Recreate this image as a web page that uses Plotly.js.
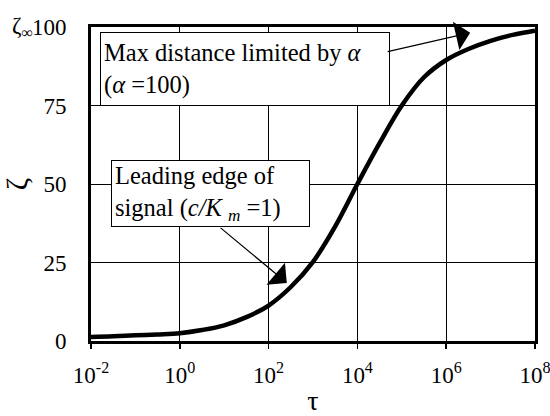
<!DOCTYPE html>
<html>
<head>
<meta charset="utf-8">
<script src="https://cdn.plot.ly/plotly-3.0.1.min.js"></script>
<style>html,body{margin:0;padding:0;background:#fff;}#chart{width:550px;height:416px;}</style>
</head>
<body>
<div id="chart"></div>
<script>
// dimensionless time tau (log scale)
const tau = [0.01, 0.0316, 0.1, 0.316, 1, 3.16, 10, 31.6, 100, 316, 1e3, 3160, 1e4, 31600, 1e5, 316000, 1e6, 3.16e6, 1e7, 3.16e7, 1e8];
// leading edge position zeta
const zeta = [1.3, 1.5, 1.8, 2.1, 2.5, 3.5, 5.0, 7.6, 11.3, 17.2, 25.2, 36.5, 50, 63, 75, 84, 89.5, 93, 95.6, 97.5, 98.8];
// tick labels
const xTickVals = [0.01, 1, 100, 1e4, 1e6, 1e8];
const xTickText = ['10<sup>-2</sup>', '10<sup>0</sup>', '10<sup>2</sup>', '10<sup>4</sup>', '10<sup>6</sup>', '10<sup>8</sup>'];
const yTickVals = [0, 25, 50, 75, 100];

const FONT = 'Liberation Serif, Times New Roman, serif';

const trace = {
  x: tau, y: zeta, type: 'scatter', mode: 'lines',
  line: {color: '#000', width: 4.5, shape: 'spline', smoothing: 1},
  hoverinfo: 'skip'
};

const layout = {
  width: 550, height: 416,
  margin: {l: 91, r: 15, t: 27, b: 74.5},
  paper_bgcolor: '#fff', plot_bgcolor: '#fff',
  showlegend: false,
  font: {family: FONT, color: '#000', size: 23},
  xaxis: {
    type: 'log', range: [-2, 8],
    tickvals: xTickVals, ticktext: xTickText,
    showgrid: true, gridcolor: '#000', gridwidth: 1,
    showline: true, linecolor: '#000', linewidth: 3, mirror: true,
    ticks: 'outside', ticklen: 5, tickwidth: 1.5, tickcolor: '#000',
    ticklabelstandoff: 6, ticklabeloverflow: 'allow',
    tickfont: {family: FONT, size: 23, color: '#000'},
    zeroline: false,
    title: {text: 'τ', font: {family: FONT, size: 28, color: '#000'}, standoff: 6}
  },
  yaxis: {
    range: [0, 100], tickvals: yTickVals,
    showgrid: true, gridcolor: '#000', gridwidth: 1,
    showline: true, linecolor: '#000', linewidth: 3, mirror: true,
    ticks: '', ticklabelstandoff: 17,
    tickfont: {family: FONT, size: 23, color: '#000'},
    zeroline: false,
    title: {text: 'ζ', font: {family: FONT, size: 30, color: '#000'}, standoff: 12}
  },
  annotations: [
    {
      xref: 'paper', yref: 'paper', x: 9/444, y: (341.5-32)/314.5,
      xanchor: 'left', yanchor: 'top', showarrow: false,
      text: 'Max distance limited by <i>α</i><br>(<i>α</i> =100)',
      align: 'left', width: 282, height: 66,
      bgcolor: '#fff', bordercolor: '#000', borderwidth: 1, borderpad: 3,
      font: {family: FONT, size: 24.5, color: '#000'}
    },
    {
      xref: 'x', yref: 'y', x: 6.54, y: 98.2, ax: -84, ay: 19.3,
      text: '', showarrow: true, arrowhead: 1, arrowsize: 4, arrowwidth: 1.2, arrowcolor: '#000'
    },
    {
      xref: 'paper', yref: 'paper', x: 20/444, y: (341.5-160)/314.5,
      xanchor: 'left', yanchor: 'top', showarrow: false,
      text: 'Leading edge of<br>signal (<i>c/K</i> <sub><i>m</i></sub> =1)',
      align: 'left', width: 191, height: 59,
      bgcolor: '#fff', bordercolor: '#000', borderwidth: 1, borderpad: 3,
      font: {family: FONT, size: 24.5, color: '#000'}
    },
    {
      xref: 'x', yref: 'y', x: 2.41, y: 18.5, ax: -67.7, ay: -56.3,
      text: '', showarrow: true, arrowhead: 1, arrowsize: 4, arrowwidth: 1.2, arrowcolor: '#000'
    },
    {
      xref: 'paper', yref: 'paper', x: -57/444, y: 1.0, xanchor: 'right', yanchor: 'middle',
      showarrow: false, text: 'ζ<sub>∞</sub>', borderpad: 0,
      font: {family: FONT, size: 23, color: '#000'}
    }
  ]
};

Plotly.newPlot('chart', [trace], layout, {displayModeBar: false, staticPlot: true});
</script>
</body>
</html>
